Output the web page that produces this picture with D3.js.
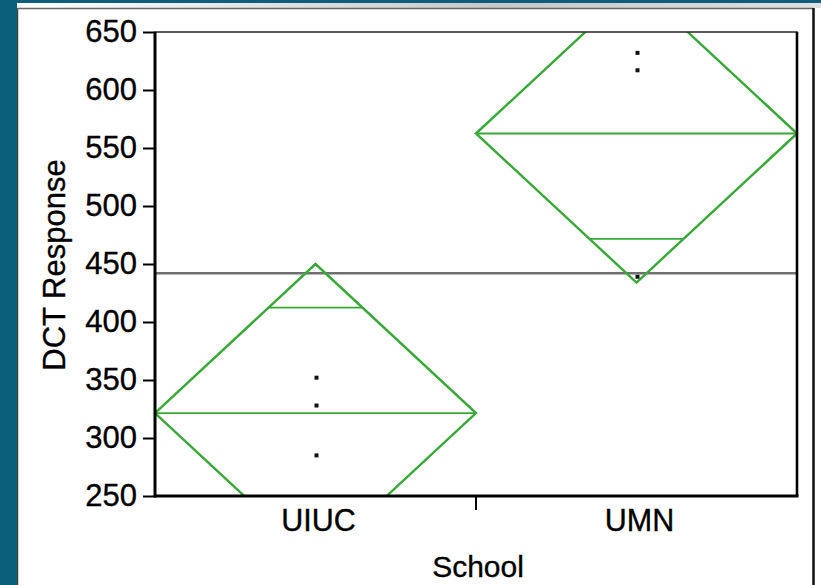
<!DOCTYPE html>
<html>
<head>
<meta charset="utf-8">
<script src="https://cdn.jsdelivr.net/npm/d3@7"></script>
<style>
  html, body { margin: 0; padding: 0; background: #0b5f78; }
  svg { display: block; }
  text { font-family: "Liberation Sans", Arial, sans-serif; fill: #000; stroke: #000; stroke-width: 0.35px; }
</style>
</head>
<body>
<svg id="chart" width="821" height="585"></svg>
<script>
// School groups and the individual DCT responses
const schools = ["UIUC", "UMN"];
const uiucValues = [285, 328, 352];
const umnValues = [439, 617, 632];

// Means diamonds: group mean and 95% confidence limits
const groupMeans = [321.5, 562.5];
const ciLower = [193, 434];
const ciUpper = [450, 691];

// Grand mean across all responses
const grandMean = [442];

// Axis ticks
const yTicks = [250, 300, 350, 400, 450, 500, 550, 600, 650];

const svg = d3.select("#chart");
const W = 821, H = 585;
const plot = { left: 155, right: 797, top: 32, bottom: 496 };

// Window-style panel behind the chart
svg.append("rect").attr("x", 0).attr("y", 0).attr("width", W).attr("height", H).attr("fill", "#0b5f78");
const grad = svg.append("defs").append("linearGradient").attr("id", "strip").attr("x1", 0).attr("x2", 1);
grad.append("stop").attr("offset", 0).attr("stop-color", "#ffffff");
grad.append("stop").attr("offset", 0.6).attr("stop-color", "#c8c8c8");
grad.append("stop").attr("offset", 1).attr("stop-color", "#e0e0e0");
svg.append("rect").attr("x", 17).attr("y", 3).attr("width", W - 17).attr("height", 5).attr("fill", "url(#strip)");
svg.append("rect").attr("x", 17).attr("y", 8).attr("width", W - 17).attr("height", H - 8).attr("fill", "#ffffff");
svg.append("line").attr("x1", 17.5).attr("x2", 17.5).attr("y1", 8).attr("y2", H).attr("stroke", "#444").attr("stroke-width", 1.5);
svg.append("line").attr("x1", 17).attr("x2", 813).attr("y1", 8.5).attr("y2", 8.5).attr("stroke", "#666").attr("stroke-width", 1.5);
svg.append("line").attr("x1", 813.5).attr("x2", 813.5).attr("y1", 8).attr("y2", H).attr("stroke", "#111").attr("stroke-width", 2.5);

const y = d3.scaleLinear().domain([250, 650]).range([plot.bottom, plot.top]);
const x = d3.scaleBand().domain(schools).range([plot.left, plot.right]).padding(0);

svg.append("clipPath").attr("id", "plotClip")
  .append("rect").attr("x", plot.left).attr("y", plot.top)
  .attr("width", plot.right - plot.left).attr("height", plot.bottom - plot.top);

const g = svg.append("g").attr("clip-path", "url(#plotClip)");

// Grand mean reference line
g.selectAll("line.grand").data(grandMean).join("line")
  .attr("class", "grand")
  .attr("x1", plot.left).attr("x2", plot.right)
  .attr("y1", d => y(d)).attr("y2", d => y(d))
  .attr("stroke", "#707070").attr("stroke-width", 2.5);

const green = "#38a838";
const groups = schools.map((s, i) => ({
  school: s, mean: groupMeans[i], lo: ciLower[i], hi: ciUpper[i],
  values: i === 0 ? uiucValues : umnValues
}));

// Diamonds: vertices at the CI limits and the mean across the full band
g.selectAll("path.diamond").data(groups).join("path")
  .attr("class", "diamond")
  .attr("d", d => {
    const x0 = x(d.school), x1 = x0 + x.bandwidth(), xc = x0 + x.bandwidth() / 2;
    return `M${x0},${y(d.mean)}L${xc},${y(d.hi)}L${x1},${y(d.mean)}L${xc},${y(d.lo)}Z`;
  })
  .attr("fill", "none").attr("stroke", green).attr("stroke-width", 2.4)
  .attr("stroke-linejoin", "miter");

// Mean line across each diamond
g.selectAll("line.mean").data(groups).join("line")
  .attr("class", "mean")
  .attr("x1", d => x(d.school)).attr("x2", d => x(d.school) + x.bandwidth())
  .attr("y1", d => y(d.mean)).attr("y2", d => y(d.mean))
  .attr("stroke", green).attr("stroke-width", 1.8);

// Overlap marks at mean ± half-CI / sqrt(2)
const overlap = [];
groups.forEach(d => {
  const h = (d.hi - d.mean) / Math.SQRT2;
  [d.mean + h, d.mean - h].forEach(v => overlap.push({ d, v }));
});
const halfSpan = o => (1 - Math.abs(o.v - o.d.mean) / (o.d.hi - o.d.mean)) * x.bandwidth() / 2;
g.selectAll("line.overlap").data(overlap).join("line")
  .attr("class", "overlap")
  .attr("x1", o => x(o.d.school) + x.bandwidth() / 2 - halfSpan(o))
  .attr("x2", o => x(o.d.school) + x.bandwidth() / 2 + halfSpan(o))
  .attr("y1", o => y(o.v)).attr("y2", o => y(o.v))
  .attr("stroke", green).attr("stroke-width", 1.8);

// Individual observations
const pts = groups.flatMap(d => d.values.map(v => ({ school: d.school, v })));
g.selectAll("rect.pt").data(pts).join("rect")
  .attr("class", "pt")
  .attr("x", p => x(p.school) + x.bandwidth() / 2 - 1)
  .attr("y", p => y(p.v) - 2)
  .attr("width", 4).attr("height", 4)
  .attr("fill", "#111");

// Plot frame
svg.append("rect").attr("x", plot.left).attr("y", plot.top)
  .attr("width", plot.right - plot.left).attr("height", plot.bottom - plot.top)
  .attr("fill", "none").attr("stroke", "#333").attr("stroke-width", 1.6);
svg.append("line").attr("x1", plot.left).attr("x2", plot.left).attr("y1", plot.top).attr("y2", plot.bottom + 1.5)
  .attr("stroke", "#000").attr("stroke-width", 3);
svg.append("line").attr("x1", plot.left).attr("x2", plot.right + 1.5).attr("y1", plot.bottom).attr("y2", plot.bottom)
  .attr("stroke", "#000").attr("stroke-width", 3);
svg.append("line").attr("x1", plot.right).attr("x2", plot.right).attr("y1", plot.top).attr("y2", plot.bottom)
  .attr("stroke", "#000").attr("stroke-width", 2.6);

// Y axis
const yAxis = svg.append("g").attr("transform", `translate(${plot.left},0)`)
  .call(d3.axisLeft(y).tickValues(yTicks).tickSize(12).tickPadding(6).tickFormat(d3.format("d")));
yAxis.select(".domain").remove();
yAxis.selectAll(".tick line").attr("stroke", "#000").attr("stroke-width", 2);
yAxis.selectAll(".tick text").attr("font-size", 31).attr("font-family", "Liberation Sans, Arial, sans-serif").attr("fill", "#000");

// X axis: separator tick between the groups, labels centred on each band
const xSep = svg.append("g");
xSep.selectAll("line").data(schools.slice(1)).join("line")
  .attr("x1", s => x(s)).attr("x2", s => x(s))
  .attr("y1", plot.bottom).attr("y2", plot.bottom + 14)
  .attr("stroke", "#000").attr("stroke-width", 2);
svg.append("g").selectAll("text").data(schools).join("text")
  .attr("x", s => x(s) + x.bandwidth() / 2 + 3)
  .attr("y", 531)
  .attr("text-anchor", "middle").attr("font-size", 30.5)
  .text(s => s);

// Axis titles
svg.append("text").attr("x", 478).attr("y", 577).attr("text-anchor", "middle")
  .attr("font-size", 30).text("School");
svg.append("text").attr("transform", "translate(65,265) rotate(-90)")
  .attr("text-anchor", "middle").attr("font-size", 31).text("DCT Response");
</script>
</body>
</html>
